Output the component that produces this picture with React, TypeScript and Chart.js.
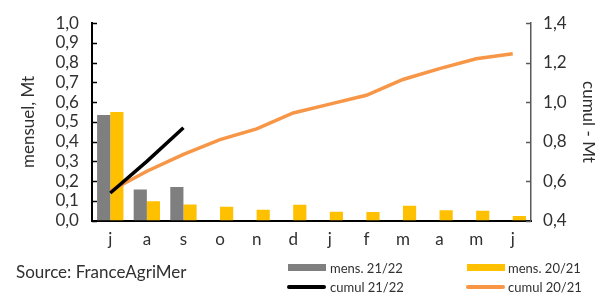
import React, { useEffect, useRef } from "react";
import { Chart, registerables } from "chart.js";

Chart.register(...registerables);

const months = ["j", "a", "s", "o", "n", "d", "j", "f", "m", "a", "m", "j"];
const mens2122 = [0.535, 0.157, 0.17, null, null, null, null, null, null, null, null, null];
const mens2021 = [0.55, 0.098, 0.082, 0.07, 0.055, 0.08, 0.045, 0.043, 0.075, 0.053, 0.05, 0.023];
const cumul2122 = [0.54, 0.7, 0.87, null, null, null, null, null, null, null, null, null];
const cumul2021 = [0.55, 0.65, 0.735, 0.81, 0.865, 0.945, 0.99, 1.035, 1.115, 1.17, 1.22, 1.245];
const leftTicks = [0, 0.1, 0.2, 0.3, 0.4, 0.5, 0.6, 0.7, 0.8, 0.9, 1.0];
const rightTicks = [0.4, 0.6, 0.8, 1.0, 1.2, 1.4];

const FONT = "Lato";
const TXT = "#303030";
const GREY = "#7F7F7F";
const YELLOW = "#FFC000";
const ORANGE = "#F79646";

const fmt = (v: number) => v.toFixed(1).replace(".", ",");

const innerTicks = {
  id: "innerTicks",
  afterDraw(chart: any) {
    const ctx = chart.ctx;
    const y = chart.scales.y;
    const y1 = chart.scales.y1;
    ctx.save();
    ctx.strokeStyle = "#000";
    ctx.lineWidth = 1.5;
    leftTicks.forEach((v) => {
      const p = Math.round(y.getPixelForValue(v)) + 0.5;
      ctx.beginPath();
      ctx.moveTo(y.right, p);
      ctx.lineTo(y.right + 5, p);
      ctx.stroke();
    });
    ctx.strokeStyle = "#595959";
    rightTicks.forEach((v) => {
      const p = Math.round(y1.getPixelForValue(v)) + 0.5;
      ctx.beginPath();
      ctx.moveTo(y1.left - 5, p);
      ctx.lineTo(y1.left, p);
      ctx.stroke();
    });
    ctx.restore();
  },
};

export default function App() {
  const ref = useRef<HTMLCanvasElement>(null);
  useEffect(() => {
    if (!ref.current) return;
    const chart = new Chart(ref.current, {
      type: "bar",
      data: {
        labels: months,
        datasets: [
          { type: "bar", label: "mens. 21/22", data: mens2122, backgroundColor: GREY, yAxisID: "y", order: 2 },
          { type: "bar", label: "mens. 20/21", data: mens2021, backgroundColor: YELLOW, yAxisID: "y", order: 2 },
          {
            type: "line", label: "cumul 21/22", data: cumul2122, borderColor: "#000", borderWidth: 3.5,
            pointRadius: 0, yAxisID: "y1", order: 0, spanGaps: false, tension: 0,
          },
          {
            type: "line", label: "cumul 20/21", data: cumul2021, borderColor: ORANGE, borderWidth: 3.5,
            pointRadius: 0, yAxisID: "y1", order: 1, tension: 0,
          },
        ] as any,
      },
      options: {
        animation: false,
        responsive: false,
        maintainAspectRatio: false,
        layout: { padding: { left: 14, right: -4, top: 11, bottom: 34 } },
        plugins: { legend: { display: false }, tooltip: { enabled: false } },
        datasets: { bar: { categoryPercentage: 0.72, barPercentage: 1 } },
        scales: {
          x: {
            grid: { display: false, drawTicks: false },
            border: { color: "#000", width: 2 },
            ticks: { color: TXT, font: { family: FONT, size: 17 }, padding: 9, maxRotation: 0, autoSkip: false },
          },
          y: {
            position: "left",
            min: 0,
            max: 1,
            grid: { display: false, drawTicks: false },
            border: { color: "#000", width: 2 },
            afterBuildTicks: (s: any) => { s.ticks = leftTicks.map((v) => ({ value: v })); },
            ticks: { color: TXT, font: { family: FONT, size: 17 }, padding: 13, autoSkip: false, callback: (v: any) => fmt(Number(v)) },
            title: { display: true, text: "mensuel, Mt", color: TXT, font: { family: FONT, size: 17 }, padding: 4 },
          },
          y1: {
            position: "right",
            min: 0.4,
            max: 1.4,
            grid: { display: false, drawTicks: false },
            border: { color: "#595959", width: 1.5 },
            afterBuildTicks: (s: any) => { s.ticks = rightTicks.map((v) => ({ value: v })); },
            ticks: { color: TXT, font: { family: FONT, size: 17 }, padding: 12, autoSkip: false, callback: (v: any) => fmt(Number(v)) },
            title: { display: true, text: "cumul - Mt", color: TXT, font: { family: FONT, size: 17 }, padding: 0 },
          },
        },
      },
      plugins: [innerTicks],
    });
    return () => chart.destroy();
  }, []);

  const legendText: React.CSSProperties = {
    position: "absolute", fontFamily: FONT, fontSize: 13, color: TXT, lineHeight: "14px", whiteSpace: "nowrap",
  };
  const box = (x: number, y: number, w: number, h: number, c: string, r = 0): React.CSSProperties => ({
    position: "absolute", left: x, top: y, width: w, height: h, background: c, borderRadius: r,
  });

  return (
    <div style={{ position: "fixed", left: 0, top: 0, width: 595, height: 293, background: "#fff" }}>
      <canvas ref={ref} width={595} height={293} style={{ position: "absolute", left: 0, top: 0 }} />
      <div style={{ position: "absolute", left: 16, top: 261, fontFamily: FONT, fontSize: 17, color: TXT, whiteSpace: "nowrap" }}>
        Source: FranceAgriMer
      </div>
      <div style={box(288, 264, 38, 7, GREY)} />
      <div style={{ ...legendText, left: 330, top: 261 }}>mens. 21/22</div>
      <div style={box(467, 264, 38, 7, YELLOW)} />
      <div style={{ ...legendText, left: 508, top: 261 }}>mens. 20/21</div>
      <div style={box(287, 285, 39, 3.5, "#000", 2)} />
      <div style={{ ...legendText, left: 330, top: 280 }}>cumul 21/22</div>
      <div style={box(466, 285, 39, 3.5, ORANGE, 2)} />
      <div style={{ ...legendText, left: 508, top: 280 }}>cumul 20/21</div>
    </div>
  );
}
